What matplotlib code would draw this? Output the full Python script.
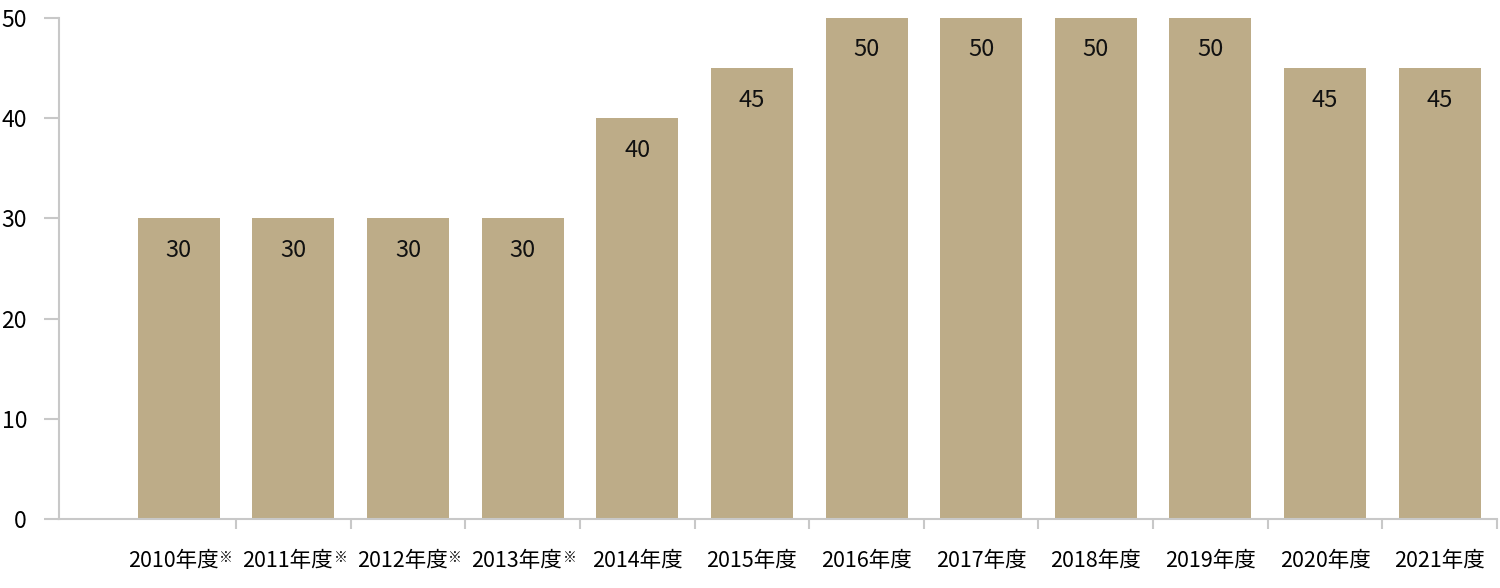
import numpy as np
import matplotlib
matplotlib.use("Agg")
import matplotlib.pyplot as plt

plt.rcParams['font.family'] = ['Noto Sans CJK JP', 'DejaVu Sans']

years = ["2010年度", "2011年度", "2012年度", "2013年度", "2014年度", "2015年度",
         "2016年度", "2017年度", "2018年度", "2019年度", "2020年度", "2021年度"]
noted = [True, True, True, True, False, False,
         False, False, False, False, False, False]
values = [30, 30, 30, 30, 40, 45, 50, 50, 50, 50, 45, 45]

bar_color = "#BDAC88"
axis_color = "#C8C8C8"

fig = plt.figure(figsize=(15, 5.88), dpi=100)
ax = fig.add_axes([0.0393, 0.1173, 0.9587, 0.8521])

x = np.arange(len(years))
ax.bar(x, values, width=0.715, color=bar_color, zorder=2)

for xi, v in zip(x, values):
    ax.annotate(str(v), (xi, v), xytext=(0, -23), textcoords="offset points",
                ha="center", va="center", fontsize=17, color="#111111")

ax.set_xlim(-1.045, 11.48)
ax.set_ylim(0, 50)
ax.set_yticks([0, 10, 20, 30, 40, 50])

# category labels at centres (no ticks), ticks at boundaries;
# labels carrying a note mark sit a little left so the whole thing is centred
ax.set_xticks(x - 0.05 * np.array(noted))
ax.set_xticklabels(years, fontsize=15.5)
ax.tick_params(axis="x", which="major", length=0, pad=22)
ax.set_xticks(x + 0.5, minor=True)
ax.tick_params(axis="x", which="minor", length=7, width=1.5, color=axis_color)
ax.tick_params(axis="y", length=11, width=1.5, color=axis_color, pad=12,
               labelsize=16.5)

for s in ["top", "right"]:
    ax.spines[s].set_visible(False)
for s in ["left", "bottom"]:
    ax.spines[s].set_color(axis_color)
    ax.spines[s].set_linewidth(1.5)

# small note mark after the first years
for lab, n in zip(ax.get_xticklabels(), noted):
    if n:
        ax.annotate("※", xy=(1, 1), xycoords=lab, xytext=(0.5, -1),
                    textcoords="offset points", ha="left", va="top",
                    fontsize=10, color="#111111")

fig.savefig("out.png", dpi=100)
